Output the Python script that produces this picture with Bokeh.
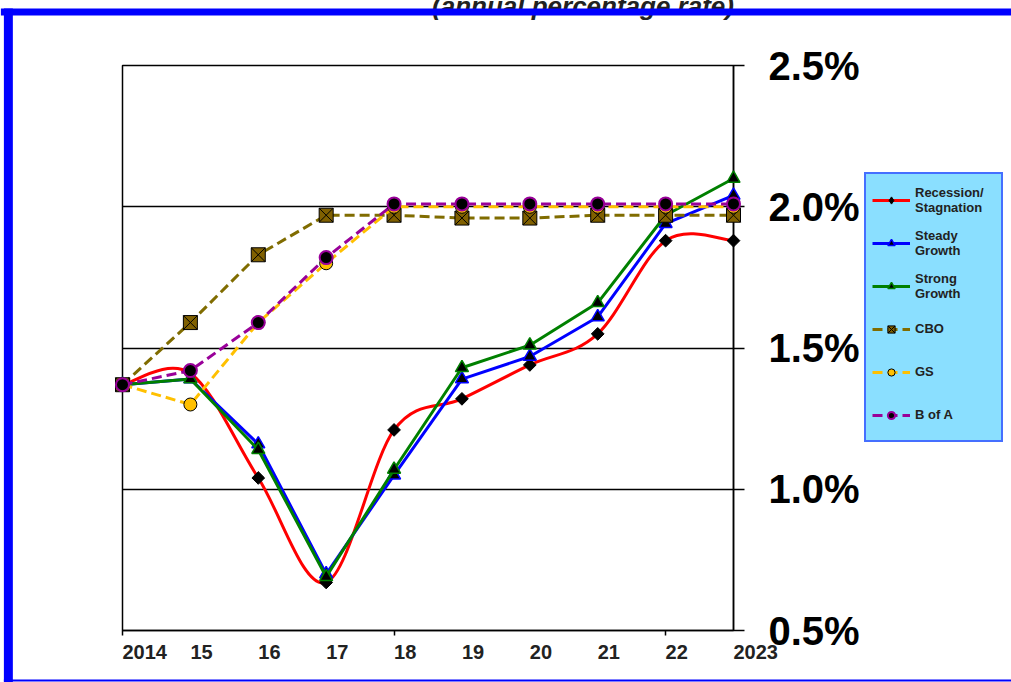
import math
from bokeh.plotting import figure
from bokeh.layouts import row
from bokeh.models import FixedTicker, Legend, LegendItem, Range1d
from bokeh.core.properties import value
from bokeh.embed import file_html
from bokeh.resources import INLINE

# growth scenarios (percent)
years = [2014, 2015, 2016, 2017, 2018, 2019, 2020, 2021, 2022, 2023]
year_labels = ["2014", "15", "16", "17", "18", "19", "20", "21", "22", "2023"]
recession = [1.37, 1.41, 1.04, 0.67, 1.21, 1.32, 1.44, 1.55, 1.88, 1.88]
steady = [1.37, 1.39, 1.16, 0.70, 1.05, 1.39, 1.47, 1.61, 1.94, 2.04]
strong = [1.37, 1.39, 1.14, 0.69, 1.07, 1.43, 1.51, 1.66, 1.97, 2.10]
cbo = [1.37, 1.59, 1.83, 1.97, 1.97, 1.96, 1.96, 1.97, 1.97, 1.97]
gs = [1.37, 1.30, 1.59, 1.80, 2.00, 2.00, 2.00, 2.00, 2.00, 2.00]
bofa = [1.37, 1.42, 1.59, 1.82, 2.01, 2.01, 2.01, 2.01, 2.01, 2.01]
y_ticks = [0.5, 1.0, 1.5, 2.0, 2.5]
y_labels = ["0.5%", "1.0%", "1.5%", "2.0%", "2.5%"]
names = ["Recession/\nStagnation", "Steady\nGrowth", "Strong\nGrowth", "CBO", "GS", "B of A"]
subtitle = "(annual percentage rate)"

W, H = 1011, 682
FL, FR, FT, FB = 122, 735, 65, 630   # where the plot frame sits on the page
W1 = 862                              # chart part; the legend strip takes the rest
FONT = value("Liberation Sans")


def smooth(xs, ys):
    # excel style smoothed line -> bezier pieces through the points
    n = len(xs)
    out = {k: [] for k in ["x0", "y0", "x1", "y1", "cx0", "cy0", "cx1", "cy1"]}
    for i in range(n - 1):
        a = max(i - 1, 0)
        b = min(i + 2, n - 1)
        out["x0"].append(xs[i]); out["y0"].append(ys[i])
        out["x1"].append(xs[i + 1]); out["y1"].append(ys[i + 1])
        out["cx0"].append(xs[i] + (xs[i + 1] - xs[a]) / 6)
        out["cy0"].append(ys[i] + (ys[i + 1] - ys[a]) / 6)
        out["cx1"].append(xs[i + 1] - (xs[b] - xs[i]) / 6)
        out["cy1"].append(ys[i + 1] - (ys[b] - ys[i]) / 6)
    return out


def add_series(fig, in_legend=False):
    # the six scenarios, returns the renderers of each for a legend
    out = []
    r = fig.bezier(line_color="red", line_width=3, **smooth(years, recession))
    if in_legend:
        m = fig.scatter(years, recession, marker="diamond", size=12, fill_color="black", line_color="black")
    else:
        m = fig.scatter(years, recession, marker="square", angle=math.pi / 4, size=9,
                        fill_color="black", line_color="black")
    out.append([r, m])
    r = fig.line(years, steady, line_color="blue", line_width=3)
    m = fig.scatter(years, steady, marker="triangle", size=13, fill_color="black", line_color="blue", line_width=1.5)
    out.append([r, m])
    r = fig.line(years, strong, line_color="green", line_width=3)
    m = fig.scatter(years, strong, marker="triangle", size=13, fill_color="black", line_color="green", line_width=1.5)
    out.append([r, m])
    r = fig.line(years, cbo, line_color="#806c00", line_width=3, line_dash="10 5")
    m = fig.scatter(years, cbo, marker="square_x", size=14, fill_color="#806000", line_color="black")
    out.append([r, m])
    r = fig.line(years, gs, line_color="#ffc000", line_width=3, line_dash="10 5")
    m = fig.scatter(years, gs, marker="circle", size=13, fill_color="#ffc000", line_color="black")
    out.append([r, m])
    r = fig.line(years, bofa, line_color="#990099", line_width=3, line_dash="10 5")
    m = fig.scatter(years, bofa, marker="circle", size=13, fill_color="black", line_color="#990099", line_width=2)
    out.append([r, m])
    return out


p = figure(width=W1, height=H, x_range=(years[0], years[-1]), y_range=(y_ticks[0], y_ticks[-1]),
           y_axis_location="right", output_backend="svg", toolbar_location=None,
           min_border_left=FL, min_border_right=W1 - FR, min_border_top=FT, min_border_bottom=H - FB)
# page-pixel ranges for the decoration round the chart
p.extra_x_ranges = {"px": Range1d(FL, FR)}
p.extra_y_ranges = {"px": Range1d(FB, FT)}

p.background_fill_color = "white"
p.border_fill_color = "white"
p.outline_line_color = "black"
p.outline_line_width = 1.5
p.xgrid.visible = False
p.ygrid.grid_line_color = "black"
p.ygrid.grid_line_width = 1.5

p.xaxis.ticker = FixedTicker(ticks=years, minor_ticks=[2014, 2018, 2022])
p.xaxis.major_label_overrides = {y: "" for y in years}
p.xaxis.major_tick_line_color = None
p.xaxis.major_tick_out = 0
p.xaxis.major_tick_in = 0
p.xaxis.minor_tick_line_color = "black"
p.xaxis.minor_tick_line_width = 1.5
p.xaxis.minor_tick_out = 5
p.xaxis.minor_tick_in = 0
p.xaxis.axis_line_width = 1.5

p.yaxis.ticker = FixedTicker(ticks=y_ticks, minor_ticks=[])
p.yaxis.major_label_overrides = {t: l for t, l in zip(y_ticks, y_labels)}
p.yaxis.axis_line_width = 1.5
p.yaxis.major_tick_line_width = 1.5
p.yaxis.major_tick_out = 11
p.yaxis.major_tick_in = 0
p.yaxis.major_label_standoff = 24
p.yaxis.major_label_text_font = "Liberation Sans"
p.yaxis.major_label_text_font_style = "bold"
p.yaxis.major_label_text_font_size = "40px"
p.yaxis.major_label_text_color = "black"

# year labels, left-aligned on their year, under the axis
xl = p.text(x=years, y=[y_ticks[0]] * len(years), text=year_labels, y_offset=14,
            text_align="left", text_baseline="top", text_font=FONT,
            text_font_style="bold", text_font_size="20px", text_color="#222222")
xl.level = "overlay"

# subtitle, mostly cut off at the top of the page
st = p.text(x=[584], y=[FT], text=[subtitle], y_offset=5 - FT, x_range_name="px", y_range_name="px",
            text_align="center", text_baseline="alphabetic", text_font=FONT,
            text_font_style="bold italic", text_font_size="26px", text_color="#222222")
st.level = "overlay"

# blue frame round the chart (runs a little past the strip edge so there is no seam)
for bx0, bx1, by0, by1 in [(0, W1 + 6, 8, 15), (3, 12, 8, H), (3, W1 + 6, 679, 681)]:
    b = p.patch([bx0, bx1, bx1, bx0], [by0, by0, by1, by1], x_range_name="px", y_range_name="px",
                fill_color="blue", line_color=None)
    b.level = "overlay"

for rs in add_series(p):
    for r in rs:
        r.level = "overlay"

# legend strip at the right; the row lines its frame up with the chart's,
# so its y range is the same page-pixel span
q = figure(width=W - W1, height=H, x_range=(W1, W), y_range=(FB, FT), x_axis_type=None, y_axis_type=None,
           output_backend="svg", toolbar_location=None, min_border=0)
q.outline_line_color = None
q.background_fill_color = "white"
q.border_fill_color = "white"
for bx0, bx1, by0, by1 in [(W1 - 6, W + 6, 8, 15), (W1 - 6, W + 6, 679, 681)]:
    b = q.patch([bx0, bx1, bx1, bx0], [by0, by0, by1, by1], fill_color="blue", line_color=None)
    b.level = "overlay"

# legend entries (their own copies sit off-screen in the strip)
items = [LegendItem(label=n, renderers=rs) for n, rs in zip(names, add_series(q, in_legend=True))]

legend = Legend(items=items, location=(2, FB - 442))
legend.background_fill_color = "#8adfff"
legend.background_fill_alpha = 1
legend.border_line_color = "blue"
legend.border_line_width = 2
legend.padding = 6
legend.spacing = 4
legend.margin = 0
legend.glyph_width = 38
legend.glyph_height = 18
legend.label_height = 39
legend.label_width = 80
legend.label_standoff = 5
legend.label_text_font = "Liberation Sans"
legend.label_text_font_style = "bold"
legend.label_text_font_size = "13px"
legend.label_text_line_height = 1.45
legend.label_text_color = "#222222"
q.add_layout(legend)

open("out.html", "w").write(file_html(row(p, q), INLINE))
